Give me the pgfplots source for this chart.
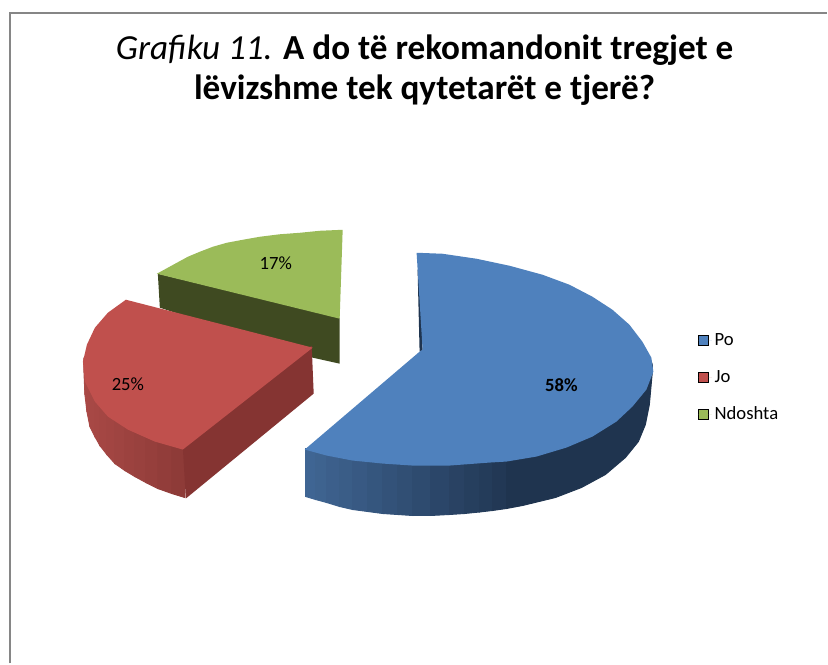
\documentclass[border=0pt]{standalone}
\usepackage{fontspec}
\setmainfont{Carlito}
\usepackage{pgfplots}
\pgfplotsset{compat=1.18}
\definecolor{pieblue}{RGB}{79,129,189}
\definecolor{piered}{RGB}{192,80,77}
\definecolor{piegreen}{RGB}{155,187,89}
\definecolor{greenwall}{RGB}{63,74,33}
\definecolor{redwall}{RGB}{133,52,50}
\definecolor{blueleft}{RGB}{64,102,148}
\definecolor{bluedark}{RGB}{31,52,79}
\definecolor{redleft}{RGB}{170,73,70}
\definecolor{redright}{RGB}{140,58,55}
\definecolor{frameline}{RGB}{134,134,134}
% one band of a side wall, the top face is drawn over its upper edge
\newcommand{\band}[2]{\addplot[forget plot, fill=#1, draw=#1, line width=0.7pt] coordinates {#2} --cycle;}
\begin{document}
\begin{tikzpicture}
\begin{axis}[
    width=621pt, height=498pt,
    scale only axis,
    xmin=0, xmax=828, ymin=0, ymax=664,
    y dir=reverse,
    axis line style={draw=none},
    xtick=\empty, ytick=\empty,
    clip=false,
    legend cell align=left,
    legend style={at={(axis cs:698,331)}, anchor=north west, draw=none, fill=none,
        font=\fontsize{14}{16}\selectfont, row sep=13pt, inner sep=0pt},
    legend image code/.code={\fill[#1] (0pt,-3.6pt) rectangle (7.6pt,3.9pt); \path[draw=none] (0pt,0pt) -- (10.6pt,0pt);},
]
% frame, cut off at the right and bottom
\addplot[forget plot, frameline, line width=1.2pt] coordinates {(10,664)(10,13)(828,13)};

% green slice
\addplot[forget plot, fill=greenwall, draw=none] coordinates {(158,274)(340,318)(340,364)(313,358)(160,308)} --cycle;
\addplot[forget plot, fill=piegreen, draw=none] coordinates {
    (157,274)(167,268.5)(177,263)(188,257)(200,252)(213,247)(227,243)(243,240)(260,237)(280,234.5)(300,233)(320,231)(343,230)(340,319)} --cycle;

% red slice
\band{redright!1!redleft}{(84,358)(85,370)(85,395)(84,372)}
\band{redright!3!redleft}{(85,370)(87,378)(87,412)(85,395)}
\band{redright!5!redleft}{(87,378)(90,385)(90,427)(87,412)}
\band{redright!9!redleft}{(90,385)(95,395)(95,437)(90,427)}
\band{redright!14!redleft}{(95,395)(100,400)(100,446)(95,437)}
\band{redright!20!redleft}{(100,400)(107,410)(107,455)(100,446)}
\band{redright!27!redleft}{(107,410)(115,415)(115,464)(107,455)}
\band{redright!36!redleft}{(115,415)(125,423)(125,471)(115,464)}
\band{redright!46!redleft}{(125,423)(135,428)(135,477)(125,471)}
\band{redright!56!redleft}{(135,428)(146,433)(146,483)(135,477)}
\band{redright!67!redleft}{(146,433)(158,437)(158,489)(146,483)}
\band{redright!80!redleft}{(158,437)(172,441)(172,494)(158,489)}
\band{redright!93!redleft}{(172,441)(185,445)(185,498)(172,494)}
\addplot[forget plot, fill=redwall, draw=none] coordinates {(183,448)(312,346)(314,394)(186,499)} --cycle;
\addplot[forget plot, fill=piered, draw=none] coordinates {
    (126,300)(313,348)(183,450)(155,442)(128,430)(108,417)(95,402)(85,382)(83,362)(87,345)(95,328)(108,313)} --cycle;

% blue slice
\addplot[forget plot, fill=bluedark, draw=none] coordinates {(418,270)(420,352)(423,352)(421,270)} --cycle;
\band{bluedark!2!blueleft}{(306,449)(316,450)(316,500)(306,497)}
\band{bluedark!7!blueleft}{(316,450)(327,450)(327,503)(316,500)}
\band{bluedark!13!blueleft}{(327,450)(340,453)(340,507)(327,503)}
\band{bluedark!19!blueleft}{(340,453)(353,455)(353,510)(340,507)}
\band{bluedark!25!blueleft}{(353,455)(368,457)(368,512)(353,510)}
\band{bluedark!32!blueleft}{(368,457)(383,458)(383,514)(368,512)}
\band{bluedark!39!blueleft}{(383,458)(398,459)(398,515)(383,514)}
\band{bluedark!46!blueleft}{(398,459)(413,460)(413,516)(398,515)}
\band{bluedark!54!blueleft}{(413,460)(431,460)(431,516)(413,516)}
\band{bluedark!63!blueleft}{(431,460)(450,460)(450,515)(431,516)}
\band{bluedark!71!blueleft}{(450,460)(465,459)(465,514)(450,515)}
\band{bluedark!78!blueleft}{(465,459)(480,458)(480,512.5)(465,514)}
\band{bluedark!84!blueleft}{(480,458)(493,457)(493,511)(480,512.5)}
\band{bluedark!91!blueleft}{(493,457)(507,456)(507,509)(493,511)}
\band{bluedark}{(507,456)(537,450)(567,442)(593,430)(617,415)(633,400)(647,385)(653,366)(653,372)(650,405)(646,425)(639,442)(626,458)(606,475)(582,488)(556,498)(523,506)(507,509)}
\addplot[forget plot, fill=pieblue, draw=none] coordinates {
    (417,253)(443,254)(477,259)(510,266)(543,275)(570,285)(593,297)(613,310)(630,325)(643,342)(652,358)(654,372)
    (647,390)(633,407)(617,422)(593,437)(567,448)(537,457)(507,462)(490,463)(450,466)(413,466)(383,464)(353,461)(327,456)(305,450)
    (420,352)(423,350)} --cycle;

\addlegendimage{fill=pieblue}
\addlegendimage{fill=piered}
\addlegendimage{fill=piegreen}
\legend{Po, Jo, Ndoshta}

% percentage labels
\node[font=\fontsize{14}{16}\selectfont\bfseries] at (axis cs:562,386) {58\%};
\node[font=\fontsize{14}{16}\selectfont] at (axis cs:128,385) {25\%};
\node[font=\fontsize{14}{16}\selectfont] at (axis cs:276,263) {17\%};

% title, two lines set by hand
\node[anchor=base, inner sep=0pt, font=\fontsize{26.4}{30}\selectfont] at (axis cs:425,60)
    {\textit{Grafiku 11.} \textbf{A do të rekomandonit tregjet e}};
\node[anchor=base, inner sep=0pt, font=\fontsize{26.4}{30}\selectfont\bfseries] at (axis cs:425,100)
    {lëvizshme tek qytetarët e tjerë?};
\end{axis}
\end{tikzpicture}
\end{document}
